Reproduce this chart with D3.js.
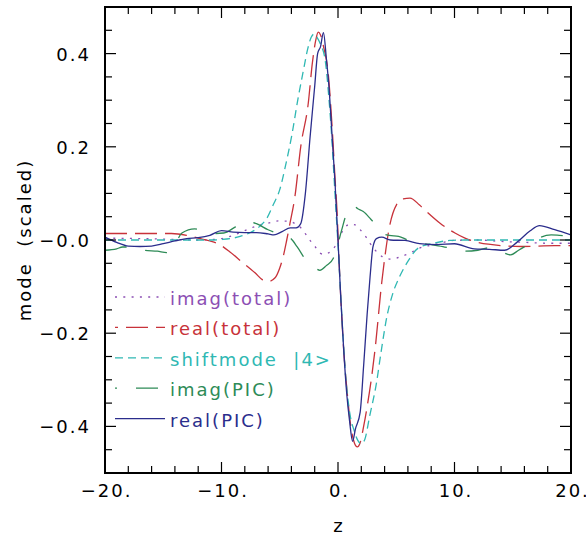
<!DOCTYPE html>
<html><head><meta charset="utf-8">
<script src="https://cdn.jsdelivr.net/npm/d3@7"></script>
<style>
body{margin:0;background:#fff}
svg{display:block}
text{font-family:"DejaVu Sans",sans-serif;font-size:18px;letter-spacing:2px;white-space:pre}
</style>
</head><body>
<svg id="c" width="586" height="535"></svg>
<script>
// ---------- data ----------
const xDomain = [-20, 20];
const yDomain = [-0.5, 0.5];
const xTicks = [-20, -10, 0, 10, 20];
const xTickLabels = ["−20.", "−10.", "0.", "10.", "20."];
const yTicks = [-0.4, -0.2, 0, 0.2, 0.4];
const yTickLabels = ["−0.4", "−0.2", "−0.0", "0.2", "0.4"];
const xLabel = "z";
const yLabel = "mode  (scaled)";
const seriesNames = ["imag(total)", "real(total)", "shiftmode  |4>", "imag(PIC)", "real(PIC)"];

const imagTotal = [[-20,0.004],[-17,0.003],[-15,0.002],[-12,0.0],[-10,0.003],[-9,0.01],[-8,0.02],[-7,0.03],[-6,0.036],[-5.1,0.041],[-4.2,0.04],[-3.55,0.033],[-3.1,0.024],[-2.55,0.004],[-1.97,-0.014],[-1.55,-0.028],[-1.2,-0.031],[-0.83,-0.028],[-0.26,-0.014],[0.1,0.005],[0.46,0.022],[1.03,0.034],[1.4,0.033],[1.75,0.026],[2.3,0.01],[2.75,-0.007],[3.2,-0.022],[3.75,-0.035],[4.6,-0.041],[5.47,-0.035],[6.18,-0.028],[7.04,-0.017],[8,-0.011],[8.76,-0.007],[9.9,-0.001],[12,0.0],[14,-0.003],[16,-0.005],[18,-0.007],[20,-0.007]];

const realTotal = [[-20,0.014],[-17,0.014],[-14.3,0.014],[-13,0.010],[-12,0.004],[-11,-0.002],[-10.3,-0.008],[-9.3,-0.025],[-8.3,-0.046],[-7.1,-0.071],[-6.5,-0.085],[-6.0,-0.089],[-5.4,-0.081],[-5.0,-0.06],[-4.7,-0.035],[-4.4,0.0],[-4.12,0.036],[-3.7,0.093],[-3.2,0.2],[-2.55,0.294],[-2.2,0.38],[-1.9,0.43],[-1.7,0.446],[-1.5,0.44],[-1.2,0.41],[-0.85,0.36],[-0.5,0.24],[-0.25,0.13],[-0.08,0.06],[0.05,-0.02],[0.25,-0.13],[0.5,-0.24],[0.8,-0.33],[1.1,-0.40],[1.4,-0.435],[1.66,-0.444],[1.9,-0.435],[2.2,-0.40],[2.46,-0.364],[3.18,-0.235],[3.75,-0.092],[4.03,-0.035],[4.32,0.015],[5.03,0.076],[5.6,0.088],[6.18,0.09],[7.0,0.075],[7.6,0.061],[8.76,0.036],[10.04,0.015],[10.9,0.004],[12.9,-0.009],[15.8,-0.014],[18.6,-0.012],[20,-0.012]];

const shiftMode = [[-20,0.0],[-15,0.0],[-11,0.0],[-10,0.001],[-9,0.004],[-8.4,0.008],[-7.6,0.015],[-7.1,0.022],[-6.6,0.032],[-6.1,0.047],[-5.55,0.076],[-5.0,0.108],[-4.5,0.16],[-4.0,0.22],[-3.4,0.308],[-3.0,0.36],[-2.6,0.41],[-2.3,0.435],[-2.05,0.442],[-1.8,0.435],[-1.5,0.42],[-1.1,0.386],[-0.8,0.31],[-0.54,0.222],[-0.26,0.10],[0.0,-0.01],[0.3,-0.15],[0.65,-0.29],[1.0,-0.37],[1.4,-0.41],[1.7,-0.43],[2.0,-0.437],[2.3,-0.428],[2.7,-0.38],[3.3,-0.307],[3.7,-0.24],[4.2,-0.164],[4.7,-0.115],[5.3,-0.078],[6.0,-0.046],[6.9,-0.017],[8.2,-0.007],[9.6,-0.001],[11,0.0],[20,0.0]];

const imagPIC = [[-20,-0.022],[-19,-0.019],[-18.5,-0.015],[-17.5,-0.015],[-16.6,-0.022],[-15.5,-0.024],[-14.7,-0.027],[-14,-0.01],[-13.4,0.015],[-12.3,0.024],[-11.4,0.018],[-10.5,0.014],[-9.8,0.015],[-8.8,0.028],[-7.8,0.04],[-7.0,0.035],[-6,0.022],[-5,0.012],[-4.1,0.004],[-3.5,-0.015],[-2.98,-0.035],[-2.7,-0.046],[-2.1,-0.057],[-1.55,-0.065],[-1.0,-0.055],[-0.4,-0.039],[-0.1,-0.017],[0.3,0.02],[0.75,0.058],[1.26,0.074],[1.7,0.067],[2.17,0.061],[2.8,0.045],[3.46,0.026],[3.75,0.015],[4.4,0.01],[5.2,0.008],[6,0.0],[7.04,-0.007],[8,-0.010],[9,-0.014],[10,-0.02],[10.9,-0.024],[12,-0.022],[12.9,-0.017],[14,-0.025],[14.8,-0.032],[15.5,-0.022],[16.5,-0.007],[17.3,0.005],[18.3,0.011],[19,0.01],[20,0.008]];

const realPIC = [[-20,0.006],[-19,-0.005],[-18,-0.013],[-17,-0.014],[-16,-0.013],[-15,-0.008],[-14,-0.002],[-13,0.003],[-12,0.005],[-11,0.010],[-10,0.020],[-9,0.017],[-8,0.016],[-7,0.016],[-6,0.013],[-5.5,0.011],[-4.8,0.018],[-4.1,0.026],[-3.6,0.026],[-3.2,0.035],[-2.8,0.10],[-2.4,0.22],[-2.0,0.33],[-1.75,0.40],[-1.5,0.415],[-1.25,0.445],[-1.0,0.39],[-0.75,0.32],[-0.5,0.22],[-0.25,0.12],[0.0,0.0],[0.25,-0.13],[0.5,-0.24],[0.75,-0.33],[1.0,-0.39],[1.25,-0.432],[1.5,-0.405],[1.9,-0.37],[2.2,-0.27],[2.5,-0.16],[2.75,-0.08],[3.0,-0.015],[3.3,0.003],[3.75,0.006],[4.5,0.0],[5.75,-0.001],[7.0,-0.008],[8.5,-0.01],[10,-0.008],[11.7,-0.019],[13,-0.02],[14.3,-0.022],[15.4,-0.004],[16.5,0.02],[17.3,0.031],[18.6,0.022],[20,0.011]];

// ---------- layout ----------
const W = 586, H = 535;
const m = {left:105, right:15, top:7, bottom:62};
const pw = W - m.left - m.right, ph = H - m.top - m.bottom;

const series = [
  {name:seriesNames[0], data:imagTotal, color:"#8c4fb4", dash:"2,6.3", legOff:0},
  {name:seriesNames[1], data:realTotal, color:"#c8323a", dash:"22,8", legOff:19},
  {name:seriesNames[2], data:shiftMode, color:"#2fb8b3", dash:"8,5", legOff:0},
  {name:seriesNames[3], data:imagPIC,  color:"#2e8b57", dash:"22,19", legOff:20},
  {name:seriesNames[4], data:realPIC,  color:"#2b2d8c", dash:null, legOff:0}
];

const svg = d3.select("#c");
const x = d3.scaleLinear().domain(xDomain).range([m.left, m.left + pw]);
const y = d3.scaleLinear().domain(yDomain).range([m.top + ph, m.top]);

svg.append("defs").append("clipPath").attr("id","clip")
  .append("rect").attr("x",m.left).attr("y",m.top).attr("width",pw).attr("height",ph);

// curves
const line = d3.line().x(d => x(d[0])).y(d => y(d[1])).curve(d3.curveMonotoneX);
const g = svg.append("g").attr("clip-path","url(#clip)");
series.forEach(s => {
  g.append("path").datum(s.data)
    .attr("d", line)
    .attr("fill","none")
    .attr("stroke", s.color)
    .attr("stroke-width", 1.3)
    .attr("stroke-dasharray", s.dash);
});

// ticks (inward, on all four sides)
const tickCol = "#000";
const xMinor = d3.range(-20, 20.001, 2);
const yMinor = d3.range(-0.5, 0.5001, 0.05);
function isMajorX(v){ return Math.abs(v % 10) < 1e-6; }
function isMajorY(v){ return yTicks.some(t => Math.abs(t - v) < 1e-6); }
const ticks = svg.append("g").attr("stroke", tickCol).attr("stroke-width", 1.2);
xMinor.forEach(v => {
  const L = isMajorX(v) ? 11 : 7;
  ticks.append("line").attr("x1",x(v)).attr("x2",x(v)).attr("y1",m.top+ph).attr("y2",m.top+ph-L);
  ticks.append("line").attr("x1",x(v)).attr("x2",x(v)).attr("y1",m.top).attr("y2",m.top+L);
});
yMinor.forEach(v => {
  const L = isMajorY(v) ? 11 : 7;
  ticks.append("line").attr("x1",m.left).attr("x2",m.left+L).attr("y1",y(v)).attr("y2",y(v));
  ticks.append("line").attr("x1",m.left+pw).attr("x2",m.left+pw-L).attr("y1",y(v)).attr("y2",y(v));
});

// frame
svg.append("rect").attr("x",m.left).attr("y",m.top).attr("width",pw).attr("height",ph)
  .attr("fill","none").attr("stroke","#000").attr("stroke-width",2);

// tick labels
const xAxis = d3.axisBottom(x).tickValues(xTicks).tickFormat((d,i) => xTickLabels[i]).tickSize(0).tickPadding(0);
const gx = svg.append("g").attr("transform", `translate(0,${m.top+ph})`).call(xAxis);
gx.select(".domain").remove();
gx.selectAll("text").attr("font-size",null).attr("font-family",null).attr("fill","#000")
  .attr("dy",null).attr("y",24).attr("dx","1px");

const yAxis = d3.axisLeft(y).tickValues(yTicks).tickFormat((d,i) => yTickLabels[i]).tickSize(0).tickPadding(0);
const gy = svg.append("g").attr("transform", `translate(${m.left},0)`).call(yAxis);
gy.select(".domain").remove();
gy.selectAll("text").attr("font-size",null).attr("font-family",null).attr("fill","#000")
  .attr("x",-14).attr("dy","0.36em").attr("text-anchor","end");

// axis titles
svg.append("text").attr("x", x(0)+1).attr("y", 532).attr("text-anchor","middle").attr("fill","#000").text(xLabel);
svg.append("text").attr("transform", `translate(31,${y(0)}) rotate(-90)`)
  .attr("text-anchor","middle").attr("fill","#000").text(yLabel);

// legend
const legX0 = 115, legX1 = 165, legTextX = 170, legY0 = 297, legDy = 30.4;
series.forEach((s,i) => {
  const yy = legY0 + i*legDy;
  svg.append("line").attr("x1",legX0).attr("x2",legX1).attr("y1",yy).attr("y2",yy)
    .attr("stroke",s.color).attr("stroke-width",1.3)
    .attr("stroke-dasharray",s.dash).attr("stroke-dashoffset",s.legOff);
  svg.append("text").attr("x",legTextX).attr("y",yy+8).attr("fill",s.color).text(s.name);
});
</script>
</body></html>
